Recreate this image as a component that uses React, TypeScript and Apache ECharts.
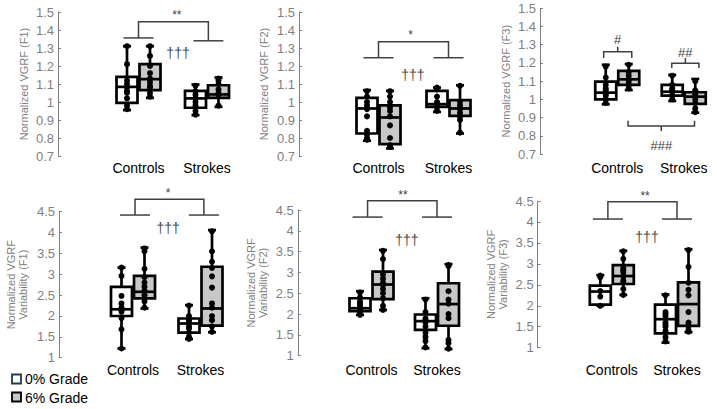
import React, { useEffect, useRef } from 'react';
import * as echarts from 'echarts';

// ---------- data ----------
const categories = ['Controls', 'Strokes'];
const groupNames = ['0% Grade', '6% Grade'];

// box stats per category: [min, q1, median, q3, max]
const f1Box0 = [[0.955, 0.995, 1.084, 1.14, 1.31], [0.927, 0.968, 1.02, 1.062, 1.097]];
const f1Box6 = [[1.023, 1.066, 1.127, 1.21, 1.31], [0.973, 1.023, 1.042, 1.093, 1.136]];
const f1Pts0 = [[1.31, 1.21, 1.12, 1.1, 1.08, 1.06, 1.05, 1.02, 0.98, 0.96], [1.09, 1.06, 1.04, 1.02, 1.0, 0.98, 0.95, 0.93]];
const f1Pts6 = [[1.31, 1.256, 1.2, 1.16, 1.13, 1.11, 1.09, 1.08, 1.05, 1.03], [1.13, 1.12, 1.1, 1.07, 1.05, 1.04, 0.98]];

const f2Box0 = [[0.785, 0.825, 0.964, 1.023, 1.066], [0.945, 0.973, 0.988, 1.062, 1.08]];
const f2Box6 = [[0.742, 0.766, 0.914, 0.981, 1.062], [0.825, 0.923, 0.964, 1.01, 1.093]];
const f2Pts0 = [[1.06, 1.03, 1.0, 0.98, 0.96, 0.92, 0.84, 0.82, 0.8, 0.79], [1.08, 1.07, 1.03, 1.0, 0.99, 0.97, 0.95]];
const f2Pts6 = [[1.06, 1.03, 1.0, 0.97, 0.95, 0.92, 0.87, 0.8, 0.76, 0.75], [1.09, 1.0, 0.98, 0.96, 0.94, 0.92, 0.9, 0.83]];

const f3Box0 = [[0.973, 1.0, 1.037, 1.097, 1.19], [0.991, 1.02, 1.042, 1.079, 1.134]];
const f3Box6 = [[1.051, 1.079, 1.11, 1.156, 1.194], [0.927, 0.975, 1.015, 1.039, 1.112]];
const f3Pts0 = [[1.18, 1.12, 1.08, 1.06, 1.05, 1.03, 1.02, 1.0, 0.98], [1.13, 1.08, 1.06, 1.05, 1.04, 1.02, 1.0]];
const f3Pts6 = [[1.19, 1.15, 1.13, 1.11, 1.1, 1.08, 1.06], [1.1, 1.05, 1.03, 1.02, 1.0, 0.98, 0.95, 0.93]];

const v1Box0 = [[1.22, 2.0, 2.16, 2.7, 3.16], [1.45, 1.6, 1.82, 1.94, 2.26]];
const v1Box6 = [[2.18, 2.42, 2.58, 2.96, 3.64], [1.61, 1.77, 2.18, 3.18, 4.06]];
const v1Pts0 = [[3.16, 2.96, 2.48, 2.3, 2.2, 2.15, 2.1, 1.95, 1.68, 1.22], [2.25, 2.0, 1.9, 1.85, 1.75, 1.7, 1.6, 1.5, 1.45]];
const v1Pts6 = [[3.62, 3.55, 3.13, 2.93, 2.8, 2.7, 2.6, 2.5, 2.35, 2.2], [4.03, 3.55, 3.3, 3.15, 2.95, 2.68, 2.3, 2.2, 2.0, 1.9, 1.75, 1.62]];

const v2Box0 = [[1.98, 2.07, 2.14, 2.38, 2.55], [1.18, 1.62, 1.83, 1.99, 2.38]];
const v2Box6 = [[2.1, 2.36, 2.71, 3.02, 3.54], [1.16, 1.72, 2.24, 2.74, 3.2]];
const v2Pts0 = [[2.52, 2.4, 2.3, 2.25, 2.2, 2.15, 2.1, 2.05, 1.98], [2.35, 2.05, 1.9, 1.85, 1.8, 1.7, 1.55, 1.45, 1.35, 1.2]];
const v2Pts6 = [[3.52, 3.32, 2.95, 2.85, 2.75, 2.7, 2.6, 2.5, 2.38, 2.2, 2.1], [3.18, 3.15, 2.55, 2.35, 2.25, 2.0, 1.9, 1.38, 1.3, 1.17]];

const v3Box0 = [[2.0, 2.03, 2.34, 2.48, 2.73], [1.12, 1.34, 1.68, 2.03, 2.27]];
const v3Box6 = [[2.26, 2.52, 2.71, 2.97, 3.31], [1.37, 1.52, 2.04, 2.56, 3.35]];
const v3Pts0 = [[2.72, 2.68, 2.35, 2.22, 2.0], [2.25, 1.85, 1.8, 1.75, 1.6, 1.55, 1.5, 1.4, 1.25, 1.15]];
const v3Pts6 = [[3.3, 3.12, 2.9, 2.85, 2.8, 2.7, 2.6, 2.55, 2.4, 2.26], [3.33, 2.93, 2.55, 2.38, 2.25, 1.85, 1.6, 1.52, 1.42, 1.38]];

const topAxis = { min: 0.7, max: 1.5, interval: 0.1 };
const bottomAxis = { min: 1, max: 4.5, interval: 0.5 };

// significance annotations (values in data units, x in category units)
const f1Ann = [
  { kind: 'pair', l0: 0, l1: 1.02, leftY: 1.356, rightY: 1.34, topY: 1.446, text: '**', textX: 0.56, textY: 1.483, dagX: 0.577, dagY: 1.272 },
];
const f2Ann = [
  { kind: 'pair', l0: 0, l1: 1.0, leftY: 1.246, rightY: 1.246, topY: 1.335, text: '*', textX: 0.46, textY: 1.372, dagX: 0.49, dagY: 1.15 },
];
const f3Ann = [
  { kind: 'brace', xa: -0.204, xb: 0.218, y: 1.262, endY: 1.227, tickY: 1.289, text: '#', textY: 1.326 },
  { kind: 'brace', xa: 0.82, xb: 1.228, y: 1.198, endY: 1.172, tickY: 1.227, text: '##', textY: 1.256 },
  { kind: 'brace', xa: 0.162, xb: 1.162, y: 0.854, endY: 0.883, tickY: 0.826, text: '###', textY: 0.745 },
];
const v1Ann = [
  { kind: 'pair', l0: 0.03, l1: 1.05, leftY: 4.42, rightY: 4.42, topY: 4.8, text: '*', textX: 0.52, textY: 4.95, dagX: 0.52, dagY: 4.11 },
];
const v2Ann = [
  { kind: 'pair', l0: -0.06, l1: 1.0, leftY: 4.33, rightY: 4.33, topY: 4.72, text: '**', textX: 0.48, textY: 4.86, dagX: 0.54, dagY: 3.78 },
];
const v3Ann = [
  { kind: 'pair', l0: -0.06, l1: 1.0, leftY: 4.07, rightY: 4.07, topY: 4.48, text: '**', textX: 0.51, textY: 4.62, dagX: 0.54, dagY: 3.64 },
];
const daggerText = '†††';

const titles = [
  'Normalized VGRF (F1)',
  'Normalized VGRF (F2)',
  'Normalized VGRF (F3)',
  'Normalized VGRF\nVariability (F1)',
  'Normalized VGRF\nVariability (F2)',
  'Normalized VGRF\nVariability (F3)',
];

const panels = [
  { box: [f1Box0, f1Box6], pts: [f1Pts0, f1Pts6], axis: topAxis, ann: f1Ann },
  { box: [f2Box0, f2Box6], pts: [f2Pts0, f2Pts6], axis: topAxis, ann: f2Ann },
  { box: [f3Box0, f3Box6], pts: [f3Pts0, f3Pts6], axis: topAxis, ann: f3Ann },
  { box: [v1Box0, v1Box6], pts: [v1Pts0, v1Pts6], axis: bottomAxis, ann: v1Ann },
  { box: [v2Box0, v2Box6], pts: [v2Pts0, v2Pts6], axis: bottomAxis, ann: v2Ann },
  { box: [v3Box0, v3Box6], pts: [v3Pts0, v3Pts6], axis: bottomAxis, ann: v3Ann },
];

// ---------- layout / style ----------
const layouts = [
  { left: 104.25, width: 137, top: 12, height: 144, offset: 46.25, labelMargin: 5, nameGap: 28 },
  { left: 343.5, width: 140, top: 12, height: 144, offset: 44.5, labelMargin: 5, nameGap: 29 },
  { left: 584, width: 142, top: 8.3, height: 145.7, offset: 44, labelMargin: 7, nameGap: 28.5 },
  { left: 99.25, width: 135, top: 211.7, height: 146, offset: 40.25, labelMargin: 5, nameGap: 30 },
  { left: 338.75, width: 131, top: 210, height: 145.7, offset: 41, labelMargin: 7, nameGap: 29 },
  { left: 579.2, width: 130.4, top: 201, height: 146.7, offset: 41.5, labelMargin: 15, nameGap: 29 },
];

const FONT = 'Liberation Sans, Arial, sans-serif';
const FILLS = ['#ffffff', '#c8c8c8'];
const OFF = 11.5;
const BW = 21;
const LW = 2.7;
const CAP = 8;
const ANN_COLOR = '#404040';

function makeBoxRender(sign: number, fill: string) {
  return (_params: any, api: any) => {
    const cat = api.value(0);
    const vals = [1, 2, 3, 4, 5].map((d) => api.value(d));
    const cx = api.coord([cat, vals[2]])[0] + sign * OFF;
    const py = (v: number) => api.coord([cat, v])[1];
    const [yMn, yQ1, yMd, yQ3, yMx] = vals.map(py);
    const st = { stroke: '#000', lineWidth: LW };
    return {
      type: 'group',
      children: [
        { type: 'line', shape: { x1: cx, y1: yMx, x2: cx, y2: yQ3 }, style: st },
        { type: 'line', shape: { x1: cx, y1: yQ1, x2: cx, y2: yMn }, style: st },
        { type: 'line', shape: { x1: cx - CAP / 2, y1: yMx, x2: cx + CAP / 2, y2: yMx }, style: st },
        { type: 'line', shape: { x1: cx - CAP / 2, y1: yMn, x2: cx + CAP / 2, y2: yMn }, style: st },
        { type: 'rect', shape: { x: cx - BW / 2, y: yQ3, width: BW, height: yQ1 - yQ3 }, style: { fill, stroke: '#000', lineWidth: LW } },
        { type: 'line', shape: { x1: cx - BW / 2, y1: yMd, x2: cx + BW / 2, y2: yMd }, style: st },
      ],
    };
  };
}

function makePointRender(sign: number) {
  return (_params: any, api: any) => {
    const c = api.coord([api.value(0), api.value(1)]);
    return { type: 'circle', shape: { cx: c[0] + sign * OFF, cy: c[1], r: 3 }, style: { fill: '#000' } };
  };
}

function textEl(x: number, y: number, text: string, size: number, color: string) {
  return {
    type: 'text',
    x,
    y,
    style: { text, fill: color, fontSize: size, fontFamily: FONT, align: 'center', verticalAlign: 'middle' },
  };
}

function makeAnnRender(anns: any[], yRef: number) {
  return (params: any, api: any) => {
    const a = anns[params.dataIndex];
    const c0 = api.coord([0, yRef])[0];
    const c1 = api.coord([1, yRef])[0];
    const px = (x: number) => c0 + (c1 - c0) * x;
    const py = (v: number) => api.coord([0, v])[1];
    const st = { stroke: ANN_COLOR, lineWidth: 1.5, fill: null };
    const h = 15 / (c1 - c0);
    if (a.kind === 'pair') {
      return {
        type: 'group',
        children: [
          { type: 'line', shape: { x1: px(a.l0 - h), y1: py(a.leftY), x2: px(a.l0 + h), y2: py(a.leftY) }, style: st },
          { type: 'line', shape: { x1: px(a.l1 - h), y1: py(a.rightY), x2: px(a.l1 + h), y2: py(a.rightY) }, style: st },
          {
            type: 'polyline',
            shape: { points: [[px(a.l0), py(a.leftY)], [px(a.l0), py(a.topY)], [px(a.l1), py(a.topY)], [px(a.l1), py(a.rightY)]] },
            style: st,
          },
          textEl(px(a.textX), py(a.textY), a.text, 12, ANN_COLOR),
          textEl(px(a.dagX), py(a.dagY), daggerText, 14, '#4a4a4a'),
        ],
      };
    }
    const mid = (a.xa + a.xb) / 2;
    return {
      type: 'group',
      children: [
        {
          type: 'polyline',
          shape: { points: [[px(a.xa), py(a.endY)], [px(a.xa), py(a.y)], [px(a.xb), py(a.y)], [px(a.xb), py(a.endY)]] },
          style: st,
        },
        { type: 'line', shape: { x1: px(mid), y1: py(a.y), x2: px(mid), y2: py(a.tickY) }, style: st },
        textEl(px(mid), py(a.textY), a.text, 13, ANN_COLOR),
      ],
    };
  };
}

export default function App() {
  const ref = useRef<HTMLDivElement>(null);
  useEffect(() => {
    if (!ref.current) return;
    const chart = echarts.init(ref.current, undefined, { renderer: 'svg' });
    const grid: any[] = [];
    const xAxis: any[] = [];
    const yAxis: any[] = [];
    const series: any[] = [];

    panels.forEach((p, i) => {
      const L = layouts[i];
      grid.push({ left: L.left, top: L.top, width: L.width, height: L.height });
      xAxis.push({
        type: 'category',
        gridIndex: i,
        data: categories,
        boundaryGap: true,
        axisLine: { show: false },
        axisTick: { show: false },
        axisLabel: { interval: 0, hideOverlap: false, color: '#000', fontSize: 14, fontFamily: FONT, margin: L.labelMargin },
      });
      yAxis.push({
        type: 'value',
        gridIndex: i,
        min: p.axis.min,
        max: p.axis.max,
        interval: p.axis.interval,
        offset: L.offset,
        name: titles[i],
        nameLocation: 'middle',
        nameRotate: 90,
        nameGap: L.nameGap,
        nameMoveOverlap: false,
        nameTextStyle: { color: '#7f7f7f', fontSize: 11, fontFamily: FONT, lineHeight: 12 },
        axisLine: { show: true, lineStyle: { color: '#808080', width: 1 } },
        axisTick: { show: true, inside: true, length: 3, lineStyle: { color: '#808080' } },
        axisLabel: { color: '#7f7f7f', fontSize: 13, fontFamily: FONT, margin: 4 },
        splitLine: { show: false },
      });
      [0, 1].forEach((g) => {
        const sign = g === 0 ? -1 : 1;
        series.push({
          type: 'custom',
          name: groupNames[g],
          xAxisIndex: i,
          yAxisIndex: i,
          renderItem: makeBoxRender(sign, FILLS[g]),
          encode: { x: 0, y: [1, 2, 3, 4, 5] },
          data: p.box[g].map((s, c) => [c, ...s]),
          z: 2,
        });
      });
      [0, 1].forEach((g) => {
        const sign = g === 0 ? -1 : 1;
        const data: number[][] = [];
        p.pts[g].forEach((arr, c) => arr.forEach((v) => data.push([c, v])));
        series.push({
          type: 'custom',
          name: groupNames[g] + ' points',
          xAxisIndex: i,
          yAxisIndex: i,
          renderItem: makePointRender(sign),
          encode: { x: 0, y: 1 },
          data,
          z: 3,
        });
      });
      series.push({
        type: 'custom',
        name: 'annotations',
        xAxisIndex: i,
        yAxisIndex: i,
        clip: false,
        renderItem: makeAnnRender(p.ann, p.axis.min),
        encode: { x: 0, y: 1 },
        data: p.ann.map(() => [0, p.axis.min]),
        z: 4,
      });
    });

    const graphic = [
      { type: 'rect', shape: { x: 12, y: 374.5, width: 9, height: 9 }, style: { fill: '#ffffff', stroke: '#1e3a4c', lineWidth: 1.8 } },
      { type: 'rect', shape: { x: 12, y: 392.5, width: 9, height: 9 }, style: { fill: '#c8c8c8', stroke: '#000', lineWidth: 1.8 } },
      {
        type: 'text', x: 25, y: 379,
        style: { text: groupNames[0], fill: '#000', fontSize: 14, fontFamily: FONT, verticalAlign: 'middle' },
      },
      {
        type: 'text', x: 25, y: 397.5,
        style: { text: groupNames[1], fill: '#000', fontSize: 14, fontFamily: FONT, verticalAlign: 'middle' },
      },
    ];

    chart.setOption({
      animation: false,
      backgroundColor: '#ffffff',
      grid,
      xAxis,
      yAxis,
      series,
      graphic,
    });
    return () => chart.dispose();
  }, []);
  return <div ref={ref} style={{ position: 'fixed', left: 0, top: 0, width: 717, height: 409 }} />;
}
